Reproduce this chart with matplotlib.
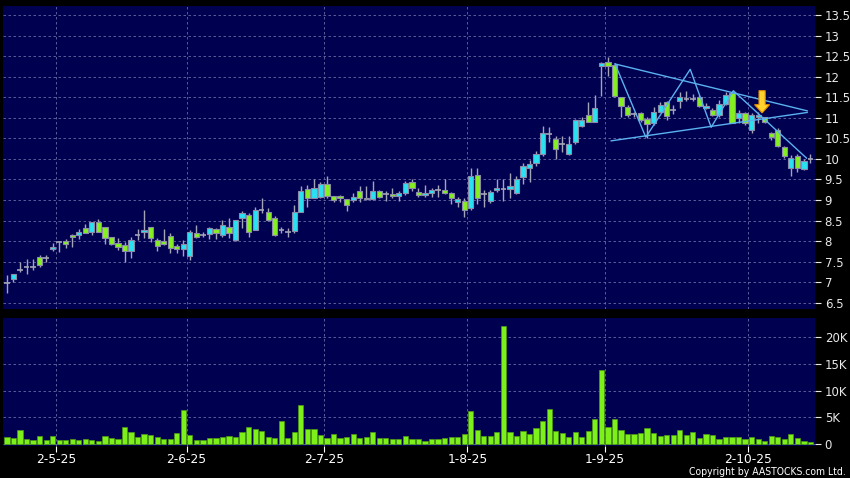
import matplotlib
matplotlib.use('Agg')
import matplotlib.pyplot as plt
import numpy as np
from matplotlib.patches import FancyArrow

# Datos diarios (indice de sesion 0..123), precios en HKD
opens = [6.98, 7.09, 7.3, 7.37, 7.37, 7.61, 7.6, 7.8, 7.98, 8.01,
         8.15, 8.15, 8.32, 8.22, 8.46, 8.34, 8.1, 7.95, 7.9, 7.77,
         8.14, 8.22, 8.34, 8.02, 8.0, 8.12, 7.89, 7.81, 7.63, 8.19,
         8.16, 8.17, 8.29, 8.14, 8.34, 8.02, 8.56, 8.63, 8.27, 8.77,
         8.72, 8.57, 8.26, 8.22, 8.25, 8.72, 9.27, 9.04, 9.07, 9.39,
         9.11, 9.11, 9.02, 8.99, 9.21, 9.06, 9.03, 9.21, 9.14, 9.14,
         9.1, 9.16, 9.43, 9.2, 9.12, 9.16, 9.24, 9.24, 9.17, 8.96,
         8.98, 8.81, 9.61, 9.15, 8.98, 9.24, 9.27, 9.26, 9.17, 9.57,
         9.79, 9.91, 10.11, 10.61, 10.49, 10.37, 10.11, 10.41, 10.8, 11.06,
         10.91, 12.25, 12.37, 12.28, 11.5, 11.27, 11.1, 11.12, 10.98, 10.88,
         11.15, 11.38, 11.2, 11.41, 11.47, 11.47, 11.5, 11.24, 11.19, 11.07,
         11.34, 11.6, 10.99, 11.11, 10.7, 11.01, 11.01, 10.62, 10.7, 10.3,
         9.77, 10.07, 9.76, 9.99]
highs = [7.18, 7.21, 7.49, 7.56, 7.56, 7.67, 7.67, 7.95, 8.01, 8.05,
         8.17, 8.29, 8.42, 8.46, 8.54, 8.34, 8.1, 8.07, 7.99, 8.09,
         8.29, 8.76, 8.34, 8.07, 8.3, 8.19, 7.92, 8.03, 8.27, 8.39,
         8.23, 8.35, 8.31, 8.52, 8.56, 8.51, 8.74, 8.68, 8.82, 9.04,
         8.8, 8.6, 8.35, 8.33, 8.88, 9.34, 9.37, 9.51, 9.45, 9.59,
         9.11, 9.13, 9.02, 9.18, 9.33, 9.33, 9.47, 9.25, 9.21, 9.29,
         9.21, 9.47, 9.51, 9.29, 9.37, 9.29, 9.37, 9.51, 9.19, 9.08,
         9.05, 9.77, 9.77, 9.24, 9.24, 9.51, 9.51, 9.65, 9.59, 9.91,
         9.97, 10.19, 10.8, 10.77, 10.57, 10.57, 10.57, 10.98, 11.02, 11.38,
         11.56, 12.35, 12.49, 12.28, 11.5, 11.3, 11.14, 11.14, 11.02, 11.26,
         11.38, 11.4, 11.3, 11.64, 11.66, 11.58, 11.56, 11.35, 11.23, 11.43,
         11.64, 11.62, 11.19, 11.13, 11.11, 11.13, 11.03, 10.66, 10.75, 10.32,
         10.1, 10.12, 9.99, 10.12]
lows = [6.73, 7.0, 7.25, 7.2, 7.29, 7.37, 7.5, 7.75, 7.73, 7.83,
        7.85, 8.05, 8.19, 8.14, 8.22, 7.93, 7.91, 7.79, 7.49, 7.6,
        8.02, 8.07, 7.99, 7.76, 7.91, 7.7, 7.7, 7.63, 7.55, 8.07,
        8.09, 8.06, 8.06, 8.1, 8.08, 8.0, 8.33, 8.1, 8.27, 8.68,
        8.48, 8.12, 8.2, 8.1, 8.2, 8.7, 8.84, 9.04, 9.04, 9.04,
        8.96, 8.96, 8.74, 8.96, 8.96, 8.99, 9.0, 9.04, 8.98, 9.04,
        8.98, 9.12, 9.23, 9.08, 9.08, 9.08, 9.08, 9.15, 8.9, 8.82,
        8.58, 8.76, 8.9, 8.84, 8.94, 9.19, 8.97, 9.06, 9.15, 9.4,
        9.43, 9.83, 10.07, 10.41, 9.99, 10.17, 10.09, 10.37, 10.78, 10.9,
        10.9, 11.54, 12.02, 11.5, 11.02, 11.02, 11.02, 10.9, 10.5, 10.83,
        11.14, 10.94, 11.1, 11.23, 11.42, 11.42, 11.27, 11.21, 11.05, 11.03,
        11.31, 10.87, 10.87, 10.83, 10.62, 10.87, 10.87, 10.46, 10.3, 10.02,
        9.59, 9.69, 9.73, 9.91]
closes = [6.98, 7.2, 7.3, 7.37, 7.37, 7.42, 7.6, 7.87, 7.98, 7.94,
          8.09, 8.22, 8.19, 8.46, 8.22, 8.07, 7.94, 7.87, 7.77, 8.02,
          8.14, 8.27, 8.07, 7.88, 7.92, 7.83, 7.81, 7.92, 8.22, 8.09,
          8.16, 8.31, 8.19, 8.39, 8.21, 8.51, 8.68, 8.22, 8.75, 8.77,
          8.52, 8.15, 8.26, 8.22, 8.7, 9.22, 9.04, 9.29, 9.39, 9.1,
          8.99, 9.04, 8.87, 9.08, 9.04, 9.03, 9.21, 9.07, 9.14, 9.1,
          9.16, 9.42, 9.29, 9.12, 9.16, 9.24, 9.24, 9.17, 9.06, 9.02,
          8.76, 9.59, 9.05, 9.15, 9.2, 9.29, 9.27, 9.34, 9.51, 9.83,
          9.87, 10.11, 10.62, 10.61, 10.25, 10.37, 10.37, 10.94, 10.95, 10.91,
          11.24, 12.33, 12.25, 11.52, 11.28, 11.08, 11.1, 10.95, 10.86, 11.14,
          11.31, 11.05, 11.2, 11.5, 11.47, 11.47, 11.29, 11.29, 11.07, 11.34,
          11.56, 10.87, 11.11, 10.87, 11.07, 11.07, 10.91, 10.53, 10.32, 10.06,
          10.03, 9.77, 9.94, 9.99]
# Volumen en miles de acciones
volumen_k = [1.36, 1.05, 2.7, 0.93, 0.74, 1.5, 0.74, 1.55, 0.68, 0.74,
             1.0, 0.8, 0.87, 0.68, 0.5, 1.5, 1.2, 1.0, 3.16, 2.2,
             1.36, 1.86, 1.67, 1.3, 1.0, 1.0, 2.0, 6.3, 1.6, 0.8,
             0.74, 1.1, 1.05, 1.24, 1.5, 1.36, 2.3, 3.2, 2.85, 2.4,
             1.24, 1.05, 4.27, 1.18, 2.3, 7.25, 2.85, 2.85, 1.67, 1.18,
             1.86, 1.1, 1.36, 1.86, 1.1, 1.24, 2.2, 1.05, 1.1, 0.87,
             0.87, 1.55, 0.93, 0.93, 0.6, 0.93, 1.0, 1.05, 1.4, 1.24,
             1.9, 6.1, 2.6, 1.5, 1.5, 2.2, 22.1, 2.2, 1.5, 2.4,
             1.86, 3.0, 4.27, 6.57, 2.4, 2.0, 1.4, 2.2, 1.3, 2.5,
             4.65, 13.9, 3.16, 4.6, 2.7, 1.86, 1.86, 1.98, 3.0, 2.1,
             1.55, 1.67, 1.67, 2.6, 1.74, 2.2, 1.1, 1.9, 1.67, 0.87,
             1.36, 1.24, 1.24, 0.93, 1.4, 0.93, 0.56, 1.5, 1.24, 0.87,
             1.86, 1.1, 0.6, 0.3]

# Primer dia de cada mes (indice de sesion) y su etiqueta
mes_idx = [8, 28, 49, 71, 92, 114]
mes_labels = ['2-5-25', '2-6-25', '2-7-25', '1-8-25', '1-9-25', '2-10-25']

# Lineas de tendencia dibujadas (indice, precio)
linea_sup_x = [93.1, 122.5]
linea_sup_y = [12.31, 11.17]
linea_inf_x = [92.5, 122.5]
linea_inf_y = [10.44, 11.13]
zigzag_x = [93.1, 97.8, 104.6, 107.8, 111.2, 122.4]
zigzag_y = [12.31, 10.53, 12.18, 10.77, 11.66, 10.02]
flecha_x = 115.6
flecha_y = [11.66, 11.12]

NAVY = '#000050'
CYAN = '#28e2f2'
VERDE = '#84f01e'
GRIS = '#a4a4b8'
GRID = '#6a6aa4'

o = np.array(opens)
h = np.array(highs)
l = np.array(lows)
c = np.array(closes)
x = np.arange(len(c))

fig = plt.figure(figsize=(8.5, 4.78), dpi=100, facecolor='black')
ax = fig.add_axes([3/850, 1 - 309/478, 812/850, 303/478], facecolor=NAVY)
axv = fig.add_axes([3/850, 1 - 446/478, 812/850, 128/478], facecolor=NAVY)

# Velas
sube = c > o
baja = c < o
igual = c == o
ax.vlines(x, l, h, color=GRIS, lw=1, zorder=2)
ax.bar(x[sube], (c - o)[sube], bottom=o[sube], width=0.8, color=CYAN,
       edgecolor='#8c8ca8', lw=0.8, zorder=3)
ax.bar(x[baja], (o - c)[baja], bottom=c[baja], width=0.8, color=VERDE,
       edgecolor='#8c8ca8', lw=0.8, zorder=3)
ax.hlines(c[igual], x[igual] - 0.42, x[igual] + 0.42, color=GRIS, lw=1.2, zorder=3)

# Tendencias y flecha
ax.plot(linea_sup_x, linea_sup_y, color='#5ab2f0', lw=1, zorder=4)
ax.plot(linea_inf_x, linea_inf_y, color='#5ab2f0', lw=1, zorder=4)
ax.plot(zigzag_x, zigzag_y, color='#5ab2f0', lw=1, zorder=4)
ax.add_patch(FancyArrow(flecha_x, flecha_y[0], 0, flecha_y[1] - flecha_y[0],
                        width=0.95, head_width=2.3, head_length=0.2,
                        length_includes_head=True, fc='#ffd22e', ec='#e08c00',
                        lw=0.8, zorder=6))

# Volumen
axv.bar(x, volumen_k, width=0.8, color='#7cf018', edgecolor='#4c9c12', lw=0.5, zorder=3)

for a in (ax, axv):
    a.set_xlim(-0.6, 123.7)
    for s in a.spines.values():
        s.set_visible(False)
    a.set_xticks(np.array(mes_idx) - 0.5)
    a.grid(True, color=GRID, ls=(0, (3, 3)), lw=0.6, zorder=0)
    a.set_axisbelow(True)
    a.yaxis.tick_right()
    a.tick_params(axis='y', colors='#e8e8e8', labelsize=8.5, length=4,
                  width=0.8, pad=3)

ax.set_ylim(6.35, 13.72)
ticks_precio = np.arange(6.5, 13.51, 0.5)
ax.set_yticks(ticks_precio)
ax.set_yticklabels([f'{t:g}' for t in ticks_precio])
ax.tick_params(axis='x', length=0, labelbottom=False)

axv.set_ylim(-0.375, 23.6)
axv.set_yticks([0, 5, 10, 15, 20])
axv.set_yticklabels(['0', '5K', '10K', '15K', '20K'])
axv.set_xticklabels(mes_labels)
axv.tick_params(axis='x', colors='white', labelsize=8.8, length=4, width=0.8, pad=1)

fig.text(846/850, 1 - 472/478, 'Copyright by AASTOCKS.com Ltd.', ha='right',
         va='center', color='white', fontsize=7.5, fontstretch='condensed')

fig.savefig('out.png', dpi=100, facecolor='black')
